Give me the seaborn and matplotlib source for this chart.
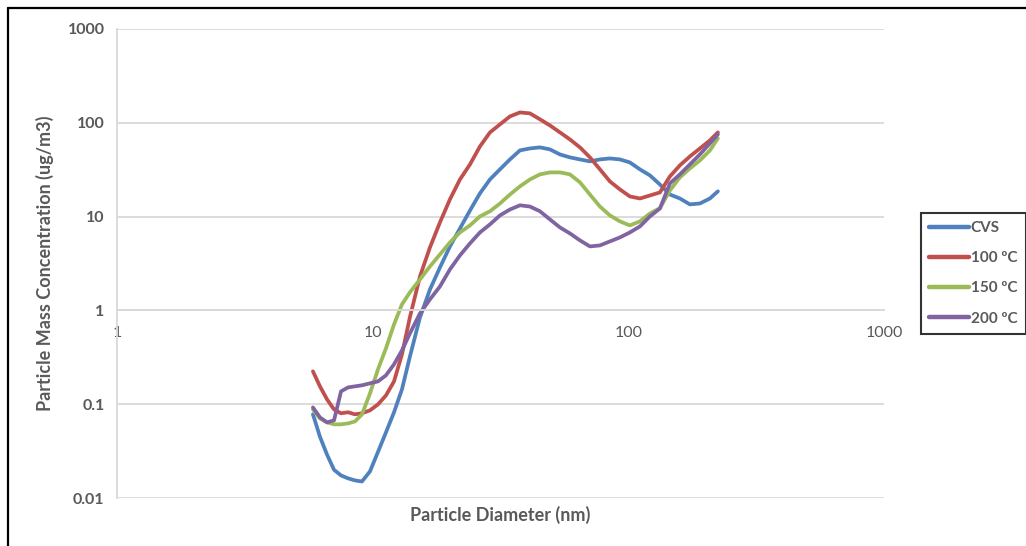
import pandas as pd
import matplotlib
matplotlib.use("Agg")
import matplotlib.pyplot as plt
import seaborn as sns
from matplotlib.lines import Line2D

# Particle size distributions (mass concentration, ug/m3) per dilution condition
diameter_nm = [5.84, 6.22, 6.63, 7.06, 7.52, 8.01, 8.53, 9.08, 9.76, 10.49,
               11.27, 12.12, 13.02, 13.99, 15.31, 16.75, 18.33, 20.06, 21.95, 24.02,
               26.28, 28.76, 31.47, 34.43, 37.68, 41.23, 45.11, 49.36, 54.01, 59.10,
               64.67, 70.76, 77.43, 84.72, 92.70, 101.4, 111.0, 121.5, 132.9, 145.4,
               159.1, 174.1, 190.5, 208.5, 224.0]

cvs = [0.078, 0.045, 0.029, 0.020, 0.0174, 0.0162, 0.0154, 0.0150, 0.0192, 0.031,
       0.050, 0.082, 0.144, 0.323, 0.84, 1.67, 2.87, 4.81, 7.48, 11.6,
       17.7, 24.9, 31.9, 40.7, 50.8, 53.3, 54.7, 52.1, 46.0, 42.8,
       40.7, 38.8, 40.7, 41.7, 40.7, 37.8, 31.9, 27.5, 22.0, 17.2,
       15.6, 13.5, 13.8, 15.6, 18.6]

t100 = [0.224, 0.155, 0.1125, 0.088, 0.080, 0.082, 0.078, 0.080, 0.086, 0.0995,
        0.124, 0.175, 0.34, 0.85, 2.3, 4.69, 8.67, 15.3, 24.9, 36.0,
        56.0, 79.0, 96.2, 117, 129, 126, 109, 93.8, 79.0, 66.5,
        54.7, 42.8, 31.9, 23.7, 19.5, 16.4, 15.6, 16.8, 18.1, 26.8,
        35.2, 43.8, 53.3, 64.9, 79.0]

t150 = [0.088, 0.0706, 0.064, 0.061, 0.061, 0.0624, 0.0655, 0.0778, 0.130, 0.235,
        0.394, 0.709, 1.16, 1.56, 2.14, 2.94, 3.95, 5.31, 6.78, 8.06,
        10.05, 11.4, 13.8, 17.2, 21.0, 24.9, 28.2, 29.6, 29.6, 28.2,
        23.2, 17.2, 12.8, 10.3, 8.89, 8.06, 8.89, 10.8, 12.3, 19.0,
        26.2, 32.6, 39.7, 50.8, 68.2]

t200 = [0.0924, 0.0723, 0.064, 0.0672, 0.137, 0.151, 0.155, 0.159, 0.167, 0.175,
        0.203, 0.266, 0.375, 0.569, 0.929, 1.31, 1.80, 2.74, 3.86, 5.18,
        6.78, 8.26, 10.3, 11.9, 13.2, 12.8, 11.4, 9.33, 7.67, 6.62,
        5.58, 4.81, 4.93, 5.44, 6.00, 6.78, 7.86, 10.05, 12.2, 22.6,
        28.2, 36.0, 46.0, 60.3, 75.2]

series_names = ["CVS", "100 ºC", "150 ºC", "200 ºC"]
series_colors = ["#4F81BD", "#C0504D", "#9BBB59", "#8064A2"]

x_ticks = [1, 10, 100, 1000]
x_tick_labels = ["1", "10", "100", "1000"]
y_ticks = [0.01, 0.1, 1, 10, 100, 1000]
y_tick_labels = ["0.01", "0.1", "1", "10", "100", "1000"]

sns.set_style("white")
plt.rcParams["font.family"] = ["Lato", "DejaVu Sans"]

text_gray = "#595959"
grid_gray = "#D9D9D9"

frames = []
for name, vals in zip(series_names, [cvs, t100, t150, t200]):
    frames.append(pd.DataFrame({"Diameter": diameter_nm,
                                "Concentration": vals,
                                "Series": name}))
df = pd.concat(frames, ignore_index=True)

W, H = 1026, 546
fig = plt.figure(figsize=(W / 100, H / 100), dpi=100)
ax = fig.add_axes([117 / W, 1 - 498 / H, (884 - 117) / W, (498 - 29) / H])

sns.lineplot(data=df, x="Diameter", y="Concentration", hue="Series",
             palette=dict(zip(series_names, series_colors)),
             linewidth=2.7, estimator=None, sort=False, legend=False, ax=ax)

ax.set_xscale("log")
ax.set_yscale("log")
ax.set_xlim(1, 1000)
ax.set_ylim(0.01, 1000)
ax.minorticks_off()
ax.set_xticks(x_ticks)
ax.set_xticklabels(x_tick_labels)
ax.set_yticks(y_ticks)
ax.set_yticklabels(y_tick_labels)
ax.tick_params(axis="both", length=0, labelsize=11.5, labelcolor=text_gray)
ax.tick_params(axis="y", pad=9)
ax.tick_params(axis="x", pad=11)
for lab in ax.get_xticklabels() + ax.get_yticklabels():
    lab.set_fontweight("bold")

ax.yaxis.grid(True, color=grid_gray, linewidth=1.3)
ax.xaxis.grid(False)
ax.set_axisbelow(True)

for side in ["top", "right"]:
    ax.spines[side].set_visible(False)
ax.spines["left"].set_color(grid_gray)
ax.spines["left"].set_linewidth(1.3)
ax.spines["bottom"].set_position(("data", 1))
ax.spines["bottom"].set_color(grid_gray)
ax.spines["bottom"].set_linewidth(1.3)

ax.set_xlabel("Particle Diameter (nm)", fontsize=13, fontweight="bold", color=text_gray)
ax.set_ylabel("Particle Mass Concentration (ug/m3)", fontsize=13, fontweight="bold", color=text_gray)
ax.xaxis.set_label_coords(0.5, -0.036)
ax.xaxis.label.set_va("center")
ax.yaxis.set_label_coords(-0.094, 0.5)
ax.yaxis.label.set_va("center")

handles = [Line2D([0], [0], color=c, linewidth=3.2, solid_capstyle="round") for c in series_colors]
leg = fig.legend(handles, series_names, loc="upper left",
                 bbox_to_anchor=(921 / W, 1 - 213 / H),
                 frameon=True, fancybox=False, edgecolor="black",
                 fontsize=11, handlelength=2.6, handletextpad=0.1,
                 labelspacing=1.05, borderpad=0.55, borderaxespad=0)
leg.get_frame().set_linewidth(1.5)
for t in leg.get_texts():
    t.set_color(text_gray)
    t.set_fontweight("bold")

# outer frame lines on the top and left edges
fig.add_artist(Line2D([8 / W, 1], [1 - 7.5 / H, 1 - 7.5 / H], color="black", linewidth=1.6,
                      transform=fig.transFigure))
fig.add_artist(Line2D([8 / W, 8 / W], [0, 1 - 7.5 / H], color="black", linewidth=1.6,
                      transform=fig.transFigure))

fig.savefig("out.png", dpi=100, facecolor="white")
